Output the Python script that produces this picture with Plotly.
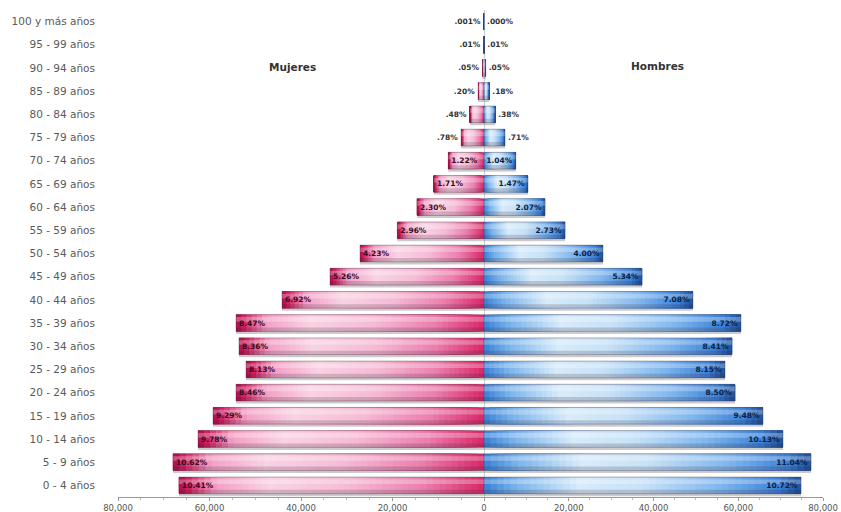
import plotly.graph_objects as go

# ---------------- data ----------------
categories = ["0 - 4 años", "5 - 9 años", "10 - 14 años", "15 - 19 años", "20 - 24 años",
              "25 - 29 años", "30 - 34 años", "35 - 39 años", "40 - 44 años", "45 - 49 años",
              "50 - 54 años", "55 - 59 años", "60 - 64 años", "65 - 69 años", "70 - 74 años",
              "75 - 79 años", "80 - 84 años", "85 - 89 años", "90 - 94 años", "95 - 99 años",
              "100 y más años"]

mujeres = [66670, 67980, 62510, 59230, 54200, 52020, 53550, 54200, 44150, 33660,
           27100, 18940, 14650, 10940, 7810, 4990, 3070, 1280, 330, 64, 10]
hombres = [74810, 77170, 70560, 65840, 59240, 56870, 58530, 60650, 49320, 37290,
           28080, 19120, 14400, 10380, 7500, 4950, 2650, 1250, 400, 70, 8]

mujeres_pct = ["10.41%", "10.62%", "9.78%", "9.29%", "8.46%", "8.13%", "8.36%", "8.47%",
               "6.92%", "5.26%", "4.23%", "2.96%", "2.30%", "1.71%", "1.22%", ".78%",
               ".48%", ".20%", ".05%", ".01%", ".001%"]
hombres_pct = ["10.72%", "11.04%", "10.13%", "9.48%", "8.50%", "8.15%", "8.41%", "8.72%",
               "7.08%", "5.34%", "4.00%", "2.73%", "2.07%", "1.47%", "1.04%", ".71%",
               ".38%", ".18%", ".05%", ".01%", ".000%"]

tick_vals = [0, 20000, 40000, 60000, 80000]
tick_text = ["0", "20,000", "40,000", "60,000", "80,000"]

# ---------------- styling ----------------
FONT = "DejaVu Sans, Verdana, sans-serif"
W, H = 841, 512
ML, MR, MT, MB = 118, 18, 10, 15
zero_frac = (484 - ML) / (W - ML - MR)

pink_stops = [(0.0, "#d92868"), (0.2, "#ec7fae"), (0.45, "#f6bcd6"), (0.7, "#fad3e4"),
              (0.88, "#f4a0c6"), (0.97, "#d0205f"), (1.0, "#a80e4a")]
blue_stops = [(0.0, "#3a80d6"), (0.1, "#7ab4ec"), (0.3, "#d8ecfb"), (0.5, "#c8e2f8"),
              (0.75, "#7fb6ee"), (0.93, "#3c82d8"), (1.0, "#1d4f99")]


def hex2rgb(h):
    h = h.lstrip("#")
    return tuple(int(h[i:i + 2], 16) for i in (0, 2, 4))


def interp(stops, t):
    for (t0, c0), (t1, c1) in zip(stops[:-1], stops[1:]):
        if t0 <= t <= t1:
            a = (t - t0) / (t1 - t0) if t1 > t0 else 0
            r0, g0, b0 = hex2rgb(c0)
            r1, g1, b1 = hex2rgb(c1)
            return "rgb(%d,%d,%d)" % (r0 + (r1 - r0) * a, g0 + (g1 - g0) * a, b0 + (b1 - b0) * a)
    return stops[-1][1]


BW = 0.72
OFF = -BW / 2
N = 48

inside_pos = ["inside" if i <= 14 else "outside" for i in range(len(categories))]

fig = go.Figure()


def add_side(values, labels, stops, xa, text_color):
    # drop shadow
    fig.add_trace(go.Bar(y=categories, x=values, base=0, orientation="h", xaxis=xa,
                         width=BW, offset=OFF - 0.11,
                         marker=dict(color="rgba(110,110,110,0.35)", line=dict(width=0)),
                         hoverinfo="skip", showlegend=False))
    # gradient: each layer runs from its start to the bar end, later layers cover earlier
    for k in range(N):
        t = (k + 0.5) / N
        fig.add_trace(go.Bar(y=categories, x=[v * (1 - k / N) for v in values],
                             base=[v * k / N for v in values], orientation="h", xaxis=xa,
                             width=BW, offset=OFF,
                             marker=dict(color=interp(stops, t), line=dict(width=0)),
                             hoverinfo="skip", showlegend=False))
    # top highlight
    fig.add_trace(go.Bar(y=categories, x=values, base=0, orientation="h", xaxis=xa,
                         width=0.2, offset=0.06,
                         marker=dict(color="rgba(255,255,255,0.28)", line=dict(width=0)),
                         hoverinfo="skip", showlegend=False))
    # bottom shade
    fig.add_trace(go.Bar(y=categories, x=values, base=0, orientation="h", xaxis=xa,
                         width=0.17, offset=OFF,
                         marker=dict(color="rgba(40,20,40,0.18)", line=dict(width=0)),
                         hoverinfo="skip", showlegend=False))
    # outline + labels
    fig.add_trace(go.Bar(y=categories, x=values, base=0, orientation="h", xaxis=xa,
                         width=BW, offset=OFF,
                         marker=dict(color="rgba(0,0,0,0)",
                                     line=dict(width=0.8, color="rgba(60,40,60,0.45)")),
                         text=["<b>%s</b>" % s for s in labels],
                         textposition=inside_pos, insidetextanchor="end",
                         textangle=0, constraintext="none", cliponaxis=False,
                         insidetextfont=dict(family=FONT, size=7.5, color=text_color),
                         outsidetextfont=dict(family=FONT, size=7.5, color="#333333"),
                         textfont=dict(family=FONT, size=7.5, color=text_color),
                         hoverinfo="skip", showlegend=False))


add_side(mujeres, mujeres_pct, pink_stops, "x", "#3a0a22")
add_side(hombres, hombres_pct, blue_stops, "x2", "#0a1f45")

axis_common = dict(showgrid=False, zeroline=False, showline=True, linecolor="#9a9a9a",
                   linewidth=1, ticks="outside", ticklen=3, tickcolor="#9a9a9a",
                   automargin=False,
                   tickfont=dict(family=FONT, size=8.5, color="#555555"),
                   minor=dict(ticks="outside", ticklen=2, tickcolor="#bbbbbb", dtick=5000))

fig.update_layout(
    width=W, height=H,
    margin=dict(l=ML, r=MR, t=MT, b=MB),
    paper_bgcolor="white", plot_bgcolor="white",
    barmode="overlay",
    showlegend=False,
    xaxis=dict(domain=[0, zero_frac], range=[80000, 0], tickvals=tick_vals[1:],
               ticktext=tick_text[1:], **axis_common),
    xaxis2=dict(domain=[zero_frac, 1], range=[0, 80000], anchor="y", tickvals=tick_vals,
                ticktext=tick_text, **axis_common),
    yaxis=dict(type="category", categoryorder="array", categoryarray=categories,
               range=[-0.5, len(categories) - 0.5], showgrid=False, zeroline=False,
               showline=False, ticks="", ticklabelstandoff=22, automargin=False,
               tickfont=dict(family=FONT, size=10.5, color="#5a5a5a")),
    shapes=[dict(type="line", xref="x2", yref="paper", x0=0, x1=0, y0=0, y1=1.0,
                 line=dict(color="#9a9a9a", width=1), layer="below")],
    annotations=[
        dict(text="<b>Mujeres</b>", xref="paper", yref="paper",
             x=(267 - ML) / (W - ML - MR), y=1 - (59 - MT) / (H - MT - MB),
             showarrow=False, font=dict(family=FONT, size=10.5, color="#333333")),
        dict(text="<b>Hombres</b>", xref="paper", yref="paper",
             x=(686 - ML) / (W - ML - MR), y=1 - (58 - MT) / (H - MT - MB),
             showarrow=False, font=dict(family=FONT, size=10.5, color="#333333")),
    ],
)

fig.write_html("out.html")
